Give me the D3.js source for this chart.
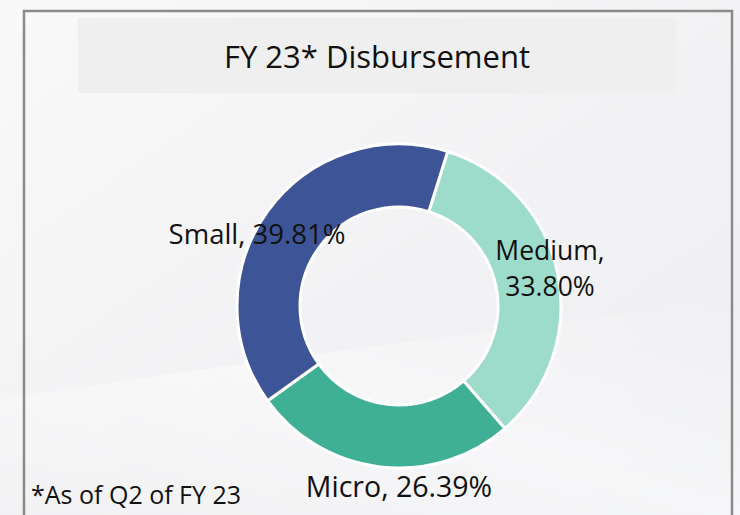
<!DOCTYPE html>
<html>
<head>
<meta charset="utf-8">
<script src="https://cdn.jsdelivr.net/npm/d3@7"></script>
<style>
  html, body { margin: 0; padding: 0; background: #f6f6f7; }
  svg { display: block; }
  text { font-family: "Open Sans", "Noto Sans", sans-serif; fill: #111; }
</style>
</head>
<body>
<svg id="chart" width="740" height="515"></svg>
<script>
// Disbursement share by enterprise segment, clockwise from the top
const segments = ["Medium", "Micro", "Small"];
const shares = [33.80, 26.39, 39.81];
const segmentColors = ["#9ddccb", "#3faf95", "#3d5496"];
const titleText = "FY 23* Disbursement";
const footnote = "*As of Q2 of FY 23";

const W = 740, H = 515;
const svg = d3.select("#chart");
const defs = svg.append("defs");

// soft gray slide background
const bg = defs.append("linearGradient").attr("id", "bg")
  .attr("x1", "0").attr("y1", "0").attr("x2", "1").attr("y2", "1");
bg.append("stop").attr("offset", "0%").attr("stop-color", "#f9f9fa");
bg.append("stop").attr("offset", "55%").attr("stop-color", "#f2f2f4");
bg.append("stop").attr("offset", "100%").attr("stop-color", "#eeeff2");
svg.append("rect").attr("width", W).attr("height", H).attr("fill", "url(#bg)");

// faint diagonal sheen
const sheen = defs.append("linearGradient").attr("id", "sheen")
  .attr("x1", "0").attr("y1", "1").attr("x2", "1").attr("y2", "0");
sheen.append("stop").attr("offset", "0%").attr("stop-color", "#fff").attr("stop-opacity", 0);
sheen.append("stop").attr("offset", "50%").attr("stop-color", "#fff").attr("stop-opacity", 0.45);
sheen.append("stop").attr("offset", "100%").attr("stop-color", "#fff").attr("stop-opacity", 0);
svg.append("path")
  .attr("d", `M0,${H} L0,400 C250,360 500,330 ${W},300 L${W},${H} Z`)
  .attr("fill", "url(#sheen)");

// panel frame (open at the bottom)
svg.append("path")
  .attr("d", "M24,520 L24,11 L732,11 L732,520")
  .attr("fill", "none").attr("stroke", "#8a8a8a").attr("stroke-width", 2.5);

// title band
svg.append("rect").attr("x", 78).attr("y", 18).attr("width", 598).attr("height", 75)
  .attr("fill", "#efefef");
svg.append("text").attr("x", 377).attr("y", 68).attr("text-anchor", "middle")
  .style("font-size", "31px").text(titleText);

// donut
const cx = 399, cy = 306, rOuter = 162, rInner = 99;
const data = segments.map((s, i) => ({ name: s, value: shares[i], color: segmentColors[i] }));
const startAngle = 17.5 * Math.PI / 180;
const pie = d3.pie().sort(null).value(d => d.value)
  .startAngle(startAngle).endAngle(startAngle + 2 * Math.PI);
const arc = d3.arc().innerRadius(rInner).outerRadius(rOuter);

const g = svg.append("g").attr("transform", `translate(${cx},${cy})`);
g.selectAll("path.slice").data(pie(data)).join("path")
  .attr("class", "slice")
  .attr("d", arc)
  .attr("fill", d => d.data.color)
  .attr("stroke", "#ffffff").attr("stroke-width", 3).attr("stroke-linejoin", "round");

// data labels; the Medium label wraps onto two lines
const fmt = v => v.toFixed(2) + "%";
const labelPos = {
  Small: { dx: -142, dy: -62, size: 27.5, lines: d => [`${d.name}, ${fmt(d.value)}`] },
  Medium: { dx: 151, dy: -46, size: 26.5, lines: d => [`${d.name},`, fmt(d.value)] },
  Micro: { dx: 0, dy: 191, size: 28.5, lines: d => [`${d.name}, ${fmt(d.value)}`] }
};
data.forEach(d => {
  const p = labelPos[d.name];
  const t = g.append("text").attr("x", p.dx).attr("y", p.dy).attr("text-anchor", "middle")
    .style("font-size", p.size + "px");
  p.lines(d).forEach((line, i) => {
    t.append("tspan").attr("x", p.dx).attr("dy", i === 0 ? 0 : 36).text(line);
  });
});

// footnote
svg.append("text").attr("x", 31).attr("y", 504)
  .style("font-size", "25px").text(footnote);
</script>
</body>
</html>
